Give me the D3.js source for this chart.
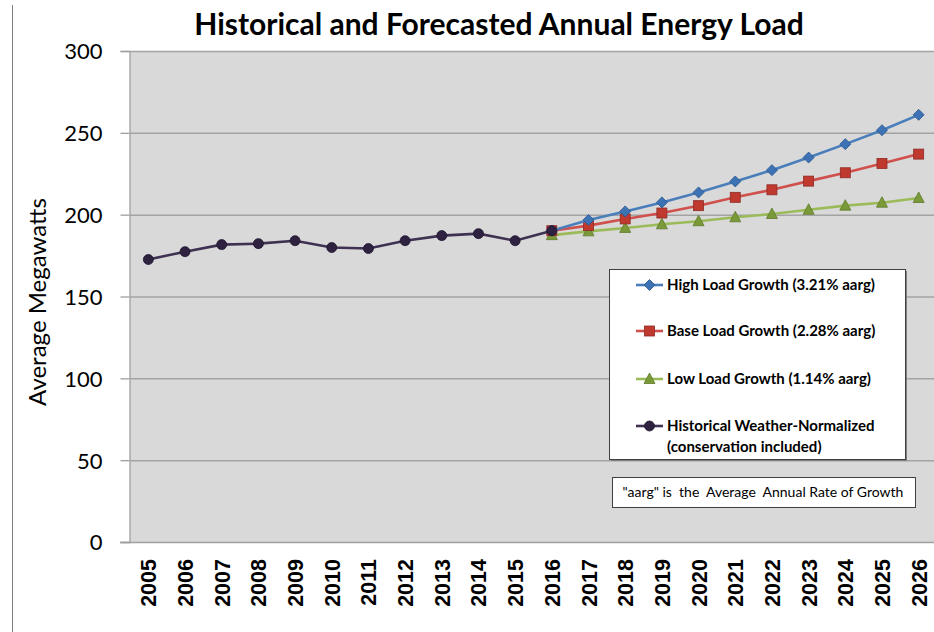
<!DOCTYPE html>
<html><head><meta charset="utf-8">
<script src="https://cdn.jsdelivr.net/npm/d3@7"></script>
<style>
body{margin:0;background:#fff;}
svg{display:block;}
</style></head>
<body>
<script>
const years = ["2005","2006","2007","2008","2009","2010","2011","2012","2013","2014","2015","2016","2017","2018","2019","2020","2021","2022","2023","2024","2025","2026"];
const historical = [172.6,177.4,181.7,182.3,184.1,179.9,179.3,184.1,187.2,188.4,184.1,190.2];
const forecastYears = ["2016","2017","2018","2019","2020","2021","2022","2023","2024","2025","2026"];
const highGrowth = [190.2,196.8,202.0,207.5,213.6,220.3,227.2,234.9,243.1,251.6,261.0];
const baseGrowth = [190.2,193.3,197.4,201.0,205.5,210.6,215.2,220.5,225.6,231.3,237.0];
const lowGrowth  = [187.5,189.8,191.9,194.1,196.0,198.4,200.4,203.0,205.5,207.3,210.2];
const yTicks = [0,50,100,150,200,250,300];
const legendLabels = ["High Load Growth (3.21% aarg)","Base Load Growth (2.28% aarg)","Low Load Growth (1.14% aarg)",["Historical Weather-Normalized","(conservation included)"]];
const noteText = "\"aarg\" is  the  Average  Annual Rate of Growth";
const titleText = "Historical and Forecasted Annual Energy Load";
const yLabel = "Average Megawatts";

const W=934,H=632;
const svg=d3.select("body").append("svg").attr("width",W).attr("height",H);
const x=d3.scaleBand().domain(years).range([130,937]).padding(0);
const y=d3.scaleLinear().domain([0,300]).range([542,51]);
const cx=d=>x(d)+x.bandwidth()/2;

// chart border left
svg.append("line").attr("x1",12.5).attr("x2",12.5).attr("y1",5).attr("y2",H).attr("stroke","#808080").attr("stroke-width",1);

// plot area
svg.append("rect").attr("x",130).attr("y",y(300)).attr("width",W-130).attr("height",y(0)-y(300)).attr("fill","#d9d9d9");

// gridlines
svg.append("g").selectAll("line").data(yTicks.filter(t=>t>0)).join("line")
  .attr("x1",130).attr("x2",W).attr("y1",d=>y(d)+0.5).attr("y2",d=>y(d)+0.5)
  .attr("stroke","#a3a3a3").attr("stroke-width",1.5);

// y axis
const yAxis=d3.axisLeft(y).tickValues(yTicks).tickSize(9).tickPadding(18);
const ga=svg.append("g").attr("transform","translate(129.5,0)").call(yAxis);
ga.select(".domain").attr("stroke","#a0a0a0").attr("stroke-width",1.3);
ga.selectAll(".tick line").attr("stroke","#a0a0a0").attr("stroke-width",1.3);
ga.selectAll(".tick text").attr("font-family","Lato, sans-serif").attr("font-size",22).attr("fill","#000").attr("dy","0.36em");

// bottom axis line
svg.append("line").attr("x1",120).attr("x2",W).attr("y1",y(0)+0.5).attr("y2",y(0)+0.5).attr("stroke","#a0a0a0").attr("stroke-width",1.5);

// x labels
const xAxis=d3.axisBottom(x).tickSize(0).tickPadding(0);
const gx=svg.append("g").attr("transform","translate(0,"+y(0)+")").call(xAxis);
gx.select(".domain").remove();
gx.selectAll(".tick text").attr("font-family","'Liberation Sans', Arial, sans-serif").attr("font-weight","bold").attr("font-size",21.5)
  .attr("fill","#000").attr("text-anchor","end").attr("transform","translate(8,17) rotate(-90)").attr("dy",0).attr("y",0).attr("x",0);

// title
svg.append("text").attr("x",499).attr("y",35).attr("text-anchor","middle").attr("font-family","Lato, sans-serif").attr("font-weight","bold").attr("font-size",30).text(titleText);

// y label
svg.append("text").attr("transform","translate(46,302) rotate(-90)").attr("text-anchor","middle").attr("font-family","Lato, sans-serif").attr("font-size",24).text(yLabel);

const colors={high:"#4a7ebb",base:"#d0504d",low:"#9bbb59",hist:"#3f3151"};
const line=d3.line().x(d=>cx(d.year)).y(d=>y(d.v));
function series(vals,yrs){return vals.map((v,i)=>({year:yrs[i],v}));}
const sLow=series(lowGrowth,forecastYears), sBase=series(baseGrowth,forecastYears), sHigh=series(highGrowth,forecastYears), sHist=series(historical,years.slice(0,historical.length));

function marker(g,type,color,stroke){
  if(type==="diamond") g.append("path").attr("d","M0,-5.5L5.5,0L0,5.5L-5.5,0Z").attr("fill",color).attr("stroke",stroke).attr("stroke-width",0.8);
  else if(type==="square") g.append("rect").attr("x",-5).attr("y",-5).attr("width",10).attr("height",10).attr("fill",color).attr("stroke",stroke).attr("stroke-width",0.8);
  else if(type==="triangle") g.append("path").attr("d","M0,-6L5.5,4.5L-5.5,4.5Z").attr("fill",color).attr("stroke",stroke).attr("stroke-width",0.8);
  else g.append("circle").attr("r",5).attr("fill",color).attr("stroke",stroke).attr("stroke-width",0.8);
}
function drawSeries(data,color,type,mfill,mstroke){
  svg.append("path").datum(data).attr("d",line).attr("fill","none").attr("stroke",color).attr("stroke-width",2.6);
  svg.append("g").selectAll("g").data(data).join("g").attr("transform",d=>`translate(${cx(d.year)},${y(d.v)})`)
    .each(function(){marker(d3.select(this),type,mfill,mstroke);});
}
drawSeries(sLow,colors.low,"triangle","#7a9a3a","#5f7a2a");
drawSeries(sBase,colors.base,"square","#c0392f","#8e2a24");
drawSeries(sHigh,colors.high,"diamond","#3d72b5","#2a568c");
drawSeries(sHist,colors.hist,"circle","#2e2240","#1e1530");

// legend
const lg=svg.append("g");
lg.append("rect").attr("x",611).attr("y",271).attr("width",296).attr("height",190).attr("fill","#7f7f7f");
lg.append("rect").attr("x",609.5).attr("y",269.5).attr("width",296).attr("height",190).attr("fill","#fff").attr("stroke","#404040").attr("stroke-width",1);
const lgItems=[{c:colors.high,t:"diamond",f:"#3d72b5",s:"#2a568c",y:285},{c:colors.base,t:"square",f:"#c0392f",s:"#8e2a24",y:331},{c:colors.low,t:"triangle",f:"#7a9a3a",s:"#5f7a2a",y:379},{c:colors.hist,t:"circle",f:"#2e2240",s:"#1e1530",y:426}];
lgItems.forEach((it,i)=>{
  lg.append("line").attr("x1",636).attr("x2",663).attr("y1",it.y).attr("y2",it.y).attr("stroke",it.c).attr("stroke-width",2.6);
  const m=lg.append("g").attr("transform",`translate(649.5,${it.y})`);
  marker(m,it.t,it.f,it.s);
  const lab=legendLabels[i];
  const lines=Array.isArray(lab)?lab:[lab];
  lines.forEach((ln,j)=>{
    lg.append("text").attr("x",667).attr("y",it.y+5+j*21).attr("font-family","Lato, sans-serif").attr("font-weight","bold").attr("font-size",15).text(ln);
  });
});

// note box
svg.append("rect").attr("x",612.5).attr("y",477.5).attr("width",303).attr("height",30).attr("fill","#fff").attr("stroke","#404040").attr("stroke-width",1);
svg.append("text").attr("x",763).attr("y",497).attr("text-anchor","middle").attr("font-family","Lato, sans-serif").attr("font-size",14).attr("xml:space","preserve").style("white-space","pre").text(noteText);
</script>
</body></html>
